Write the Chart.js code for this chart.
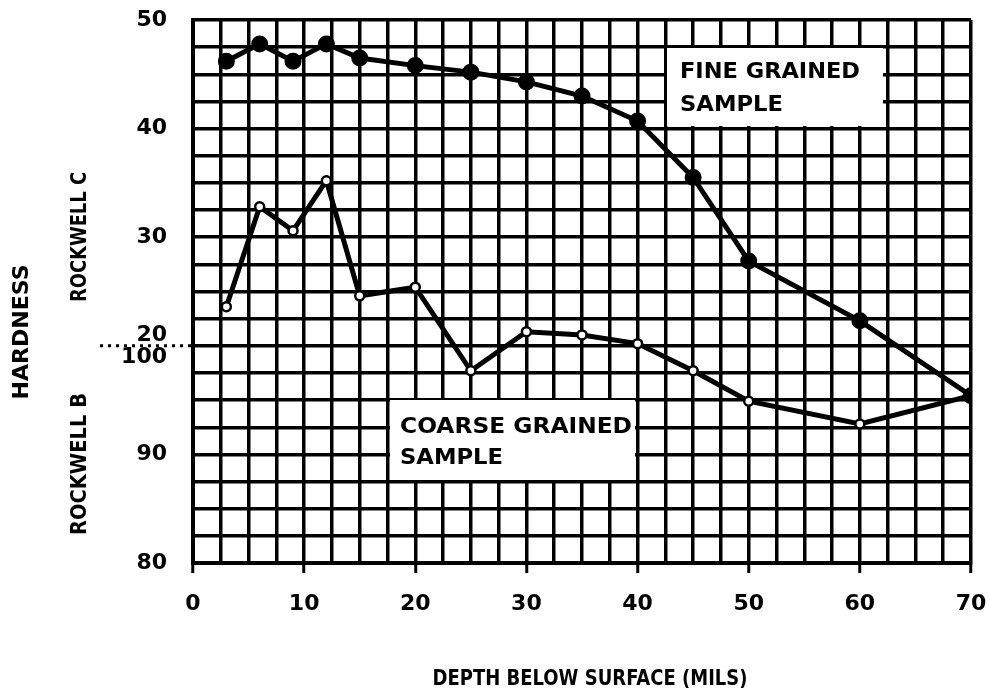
<!DOCTYPE html>
<html>
<head>
<meta charset="utf-8">
<script src="https://cdn.jsdelivr.net/npm/chart.js@4.4.0/dist/chart.umd.min.js"></script>
<style>
  html, body { margin: 0; padding: 0; background: #fff; }
  canvas { display: block; }
</style>
</head>
<body>
<canvas id="chart" width="988" height="693"></canvas>
<script>
// depth below surface, mils
const depths = [3, 6, 9, 12, 15, 20, 25, 30, 35, 40, 45, 50, 60, 70];
// hardness on the combined scale: above 20 = Rockwell C, below 20 = Rockwell B - 80
const fineGrained = [46.2, 47.8, 46.2, 47.8, 46.5, 45.8, 45.2, 44.3, 43.0, 40.7, 35.5, 27.8, 22.3, 15.4];
const coarseGrained = [23.6, 32.8, 30.6, 35.2, 24.6, 25.4, 17.7, 21.3, 21.0, 20.2, 17.7, 14.9, 12.8, 15.4];

const yTickValues = [0, 10, 20, 30, 40, 50];
const yTickText = ['80', '90', ['20', '100'], '30', '40', '50'];
const xTickValues = [0, 10, 20, 30, 40, 50, 60, 70];

const FONT = '"DejaVu Sans", "Liberation Sans", sans-serif';

// draw bold text squeezed/stretched to a given width, centred on x,y
function fitText(ctx, text, x, y, w, size, rotate) {
  ctx.save();
  ctx.font = 'bold ' + size + 'px ' + FONT;
  const m = ctx.measureText(text).width;
  ctx.translate(x, y);
  if (rotate) ctx.rotate(-Math.PI / 2);
  ctx.scale(w / m, 1);
  ctx.textAlign = 'center';
  ctx.textBaseline = 'middle';
  ctx.fillStyle = '#000';
  ctx.fillText(text, 0, 0);
  ctx.restore();
}

const notes = {
  id: 'notes',
  beforeDatasetsDraw(chart) {
    const ctx = chart.ctx;
    ctx.save();
    ctx.fillStyle = '#fff';
    ctx.fillRect(667, 48, 216, 78);
    ctx.fillRect(390, 400, 245, 80);
    ctx.restore();
    fitText(ctx, 'FINE GRAINED', 770, 72, 180, 22);
    fitText(ctx, 'SAMPLE', 731.5, 105, 103, 22);
    fitText(ctx, 'COARSE GRAINED', 516, 427, 232, 22);
    fitText(ctx, 'SAMPLE', 451.5, 458, 103, 22);
  },
  afterDraw(chart) {
    const ctx = chart.ctx;
    const y = chart.scales.y.getPixelForValue(20);
    ctx.save();
    ctx.strokeStyle = '#000';
    ctx.lineWidth = 3;
    ctx.setLineDash([3, 5]);
    ctx.beginPath();
    ctx.moveTo(100, y);
    ctx.lineTo(chart.chartArea.left - 2, y);
    ctx.stroke();
    ctx.restore();
    fitText(ctx, 'HARDNESS', 22, 332, 135, 22, true);
    fitText(ctx, 'ROCKWELL C', 80, 237, 130, 22, true);
    fitText(ctx, 'ROCKWELL B', 80, 464, 142, 22, true);
    fitText(ctx, 'DEPTH BELOW SURFACE (MILS)', 590, 679, 315, 22);
  }
};

new Chart(document.getElementById('chart'), {
  type: 'line',
  data: {
    datasets: [
      {
        label: 'Fine grained sample',
        data: depths.map((d, i) => ({ x: d, y: fineGrained[i] })),
        borderColor: '#000',
        borderWidth: 5,
        pointRadius: 6,
        pointBackgroundColor: '#000',
        pointBorderColor: '#000',
        tension: 0
      },
      {
        label: 'Coarse grained sample',
        data: depths.map((d, i) => ({ x: d, y: coarseGrained[i] })),
        borderColor: '#000',
        borderWidth: 5,
        pointRadius: 4.5,
        pointBorderWidth: 2.5,
        pointBackgroundColor: '#fff',
        pointBorderColor: '#000',
        tension: 0
      }
    ]
  },
  options: {
    responsive: false,
    animation: false,
    devicePixelRatio: 1,
    layout: { padding: { left: 0, right: 17, top: 20, bottom: 0 } },
    plugins: { legend: { display: false }, tooltip: { enabled: false } },
    scales: {
      x: {
        type: 'linear',
        min: 0,
        max: 70,
        afterFit(scale) {
          scale.height = 130;
          scale.paddingLeft = 0;
          scale.paddingRight = 0;
        },
        afterBuildTicks(scale) {
          const t = [];
          for (let v = 0; v <= 70; v += 2.5) t.push({ value: v });
          scale.ticks = t;
        },
        border: { display: true, color: '#000', width: 4 },
        grid: {
          color: '#000',
          lineWidth: 3.5,
          tickLength: 10,
          tickColor: c => (xTickValues.includes(c.tick.value) ? '#000' : 'rgba(0,0,0,0)'),
          tickWidth: 3
        },
        ticks: {
          autoSkip: false,
          maxRotation: 0,
          padding: 18,
          color: '#000',
          font: { family: FONT, weight: 'bold', size: 22 },
          callback: v => (xTickValues.includes(v) ? String(v) : '')
        }
      },
      y: {
        type: 'linear',
        min: 0,
        max: 50,
        afterFit(scale) {
          scale.width = 193;
          scale.paddingTop = 0;
          scale.paddingBottom = 0;
        },
        afterBuildTicks(scale) {
          const t = [];
          for (let v = 0; v <= 50; v += 2.5) t.push({ value: v });
          scale.ticks = t;
        },
        border: { display: true, color: '#000', width: 4 },
        grid: { color: '#000', lineWidth: 3.5, drawTicks: false },
        ticks: {
          autoSkip: false,
          padding: 26,
          color: '#000',
          font: { family: FONT, weight: 'bold', size: 22, lineHeight: 1.0 },
          callback: v => {
            const i = yTickValues.indexOf(v);
            return i >= 0 ? yTickText[i] : '';
          }
        }
      }
    }
  },
  plugins: [notes]
});
</script>
</body>
</html>
